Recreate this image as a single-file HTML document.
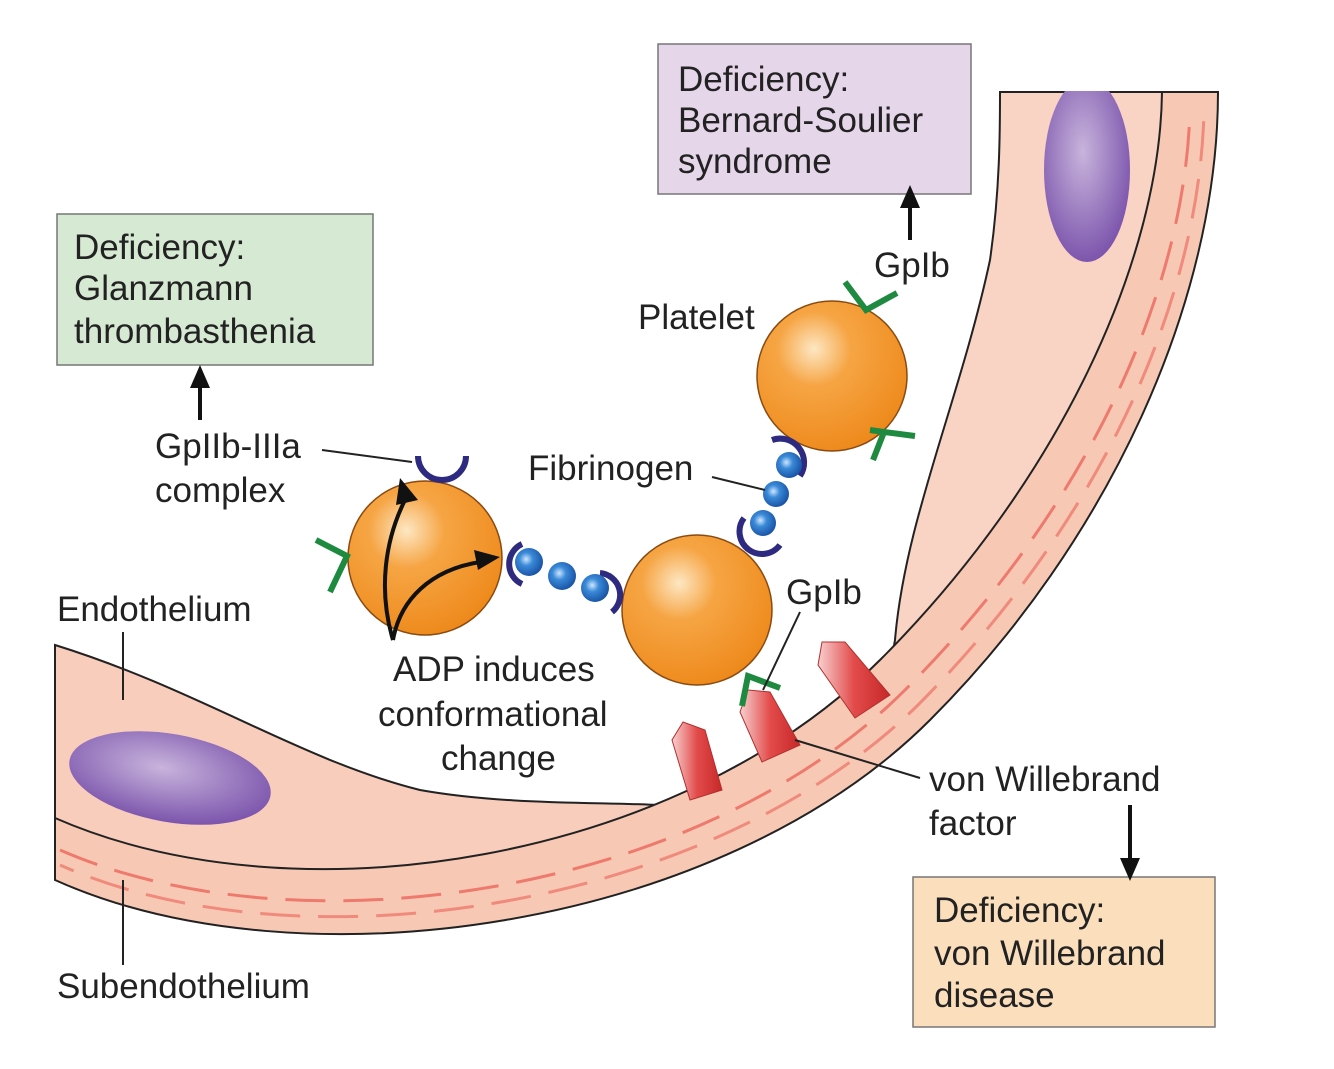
<!DOCTYPE html>
<html><head><meta charset="utf-8"><style>
html,body{margin:0;padding:0;background:#fff}
svg{display:block}
text{font-family:"Liberation Sans",sans-serif;font-size:35px;fill:#222}
</style></head><body>
<svg width="1334" height="1069" viewBox="0 0 1334 1069" xmlns="http://www.w3.org/2000/svg">
<defs>
<radialGradient id="plt" cx="0.38" cy="0.32" r="0.7">
<stop offset="0" stop-color="#fde7c2"/><stop offset="0.35" stop-color="#f6a544"/><stop offset="1" stop-color="#ee8a1c"/>
</radialGradient>
<radialGradient id="bead" cx="0.4" cy="0.4" r="0.6">
<stop offset="0" stop-color="#cfe6ff"/><stop offset="0.4" stop-color="#3a8ad8"/><stop offset="1" stop-color="#1b56a8"/>
</radialGradient>
<radialGradient id="nuc" cx="0.45" cy="0.4" r="0.6">
<stop offset="0" stop-color="#c8b4dc"/><stop offset="1" stop-color="#7d56ad"/>
</radialGradient>
<linearGradient id="vwf" x1="0" y1="0" x2="1" y2="0">
<stop offset="0" stop-color="#f8d0d0"/><stop offset="0.5" stop-color="#e34b4b"/><stop offset="1" stop-color="#c72828"/>
</linearGradient>
</defs>

<path d="M55,645 C200,690 300,760 420,790 C520,808 640,800 690,808 C700,814 700,830 680,840 C500,885 300,905 55,870 Z" fill="#f8cdbb" stroke="#222" stroke-width="2"/>
<ellipse cx="170" cy="778" rx="102" ry="44" transform="rotate(10 170 778)" fill="url(#nuc)"/>

<path d="M1000,92 L1175,92 L1100,420 L910,672 C895,680 890,665 895,640 C905,520 960,400 990,260 C1000,190 1000,130 1000,92 Z" fill="#f9d3c3" stroke="#222" stroke-width="2"/>
<ellipse cx="1087" cy="170" rx="43" ry="92" fill="url(#nuc)"/>

<path d="M55,818 C300,925 680,860 880,660 C1060,480 1160,260 1162,92 L1218,92 C1218,300 1110,540 930,720 C720,930 300,990 55,880 Z" fill="#f7c9b4" stroke="#222" stroke-width="2"/>
<path d="M60,850 C300,955 700,895 905,690 C1090,505 1185,290 1190,110" fill="none" stroke="#ee7a6e" stroke-width="3" stroke-dasharray="40,18"/>
<path d="M60,865 C300,972 710,910 918,705 C1102,520 1200,300 1204,110" fill="none" stroke="#ee7a6e" stroke-width="3" stroke-dasharray="40,18" stroke-dashoffset="25" opacity="0.8"/>
<rect x="995" y="60" width="240" height="31" fill="#fff"/>
<rect x="40" y="640" width="14" height="260" fill="#fff"/>

<g stroke="#b03030" stroke-width="1">
<path d="M690,800 L672,740 L683,722 L705,730 L722,790 Z" fill="url(#vwf)"/>
<path d="M762,762 L740,712 L748,690 L770,692 L800,745 Z" fill="url(#vwf)"/>
<path d="M855,718 L818,665 L822,642 L845,642 L890,695 Z" fill="url(#vwf)"/>
</g>

<circle cx="425" cy="558" r="77" fill="url(#plt)" stroke="#8a4a10" stroke-width="1.5"/>
<circle cx="697" cy="610" r="75" fill="url(#plt)" stroke="#8a4a10" stroke-width="1.5"/>
<circle cx="832" cy="376" r="75" fill="url(#plt)" stroke="#8a4a10" stroke-width="1.5"/>

<g fill="none" stroke="#2d2a80" stroke-width="6">
<path d="M418,456 A22,22 0 0 0 466,456"/>
<path d="M522,544 A22,22 0 0 0 522,584"/>
<path d="M600,573 A22,22 0 0 1 612,612"/>
<path d="M744,518 A22,22 0 0 0 780,545"/>
<path d="M772,440 A24,24 0 0 1 800,476"/>
</g>
<circle cx="529" cy="562" r="14" fill="url(#bead)"/>
<circle cx="562" cy="576" r="14" fill="url(#bead)"/>
<circle cx="595" cy="588" r="14" fill="url(#bead)"/>
<circle cx="789" cy="465" r="13" fill="url(#bead)"/>
<circle cx="776" cy="494" r="13" fill="url(#bead)"/>
<circle cx="763" cy="523" r="13" fill="url(#bead)"/>

<g fill="none" stroke="#1e8a40" stroke-width="6">
<path d="M845,282 L866,310 L897,293"/>
<path d="M870,430 L884,432 L915,436 M884,432 L873,460"/>
<path d="M316,540 L347,556 L330,592"/>
<path d="M742,706 L748,676 L780,688"/>
</g>

<g fill="none" stroke="#111" stroke-width="4">
<path d="M393,640 C378,590 385,540 405,500"/>
<path d="M393,640 C400,600 430,570 480,562"/>
</g>
<path d="M400,478 L418,500 L396,505 Z" fill="#111"/>
<path d="M500,557 L478,570 L474,550 Z" fill="#111"/>

<g stroke="#222" stroke-width="2" fill="none">
<line x1="322" y1="450" x2="412" y2="462"/>
<line x1="712" y1="477" x2="765" y2="490"/>
<line x1="800" y1="612" x2="763" y2="690"/>
<line x1="795" y1="740" x2="920" y2="778"/>
<line x1="123" y1="632" x2="123" y2="700"/>
<line x1="123" y1="880" x2="123" y2="965"/>
</g>

<rect x="658" y="44" width="313" height="150" fill="#e6d6ea" stroke="#777" stroke-width="1.5"/>
<text x="678" y="91">Deficiency:</text><text x="678" y="132">Bernard-Soulier</text><text x="678" y="173">syndrome</text>
<rect x="57" y="214" width="316" height="151" fill="#d6e9d3" stroke="#777" stroke-width="1.5"/>
<text x="74" y="259">Deficiency:</text><text x="74" y="300">Glanzmann</text><text x="74" y="343">thrombasthenia</text>
<rect x="913" y="877" width="302" height="150" fill="#fbdfbd" stroke="#777" stroke-width="1.5"/>
<text x="934" y="922">Deficiency:</text><text x="934" y="965">von Willebrand</text><text x="934" y="1007">disease</text>

<g stroke="#111" stroke-width="4">
<line x1="200" y1="420" x2="200" y2="385"/>
<line x1="910" y1="240" x2="910" y2="205"/>
<line x1="1130" y1="805" x2="1130" y2="862"/>
</g>
<path d="M190,388 L200,365 L210,388 Z" fill="#111"/>
<path d="M900,208 L910,185 L920,208 Z" fill="#111"/>
<path d="M1120,858 L1130,881 L1140,858 Z" fill="#111"/>

<text x="874" y="277">GpIb</text>
<text x="638" y="329">Platelet</text>
<text x="155" y="458">GpIIb-IIIa</text>
<text x="155" y="502">complex</text>
<text x="528" y="480">Fibrinogen</text>
<text x="786" y="604">GpIb</text>
<text x="57" y="621">Endothelium</text>
<text x="393" y="681">ADP induces</text>
<text x="378" y="726">conformational</text>
<text x="441" y="770">change</text>
<text x="929" y="791">von Willebrand</text>
<text x="929" y="835">factor</text>
<text x="57" y="998">Subendothelium</text>
</svg>
</body></html>
